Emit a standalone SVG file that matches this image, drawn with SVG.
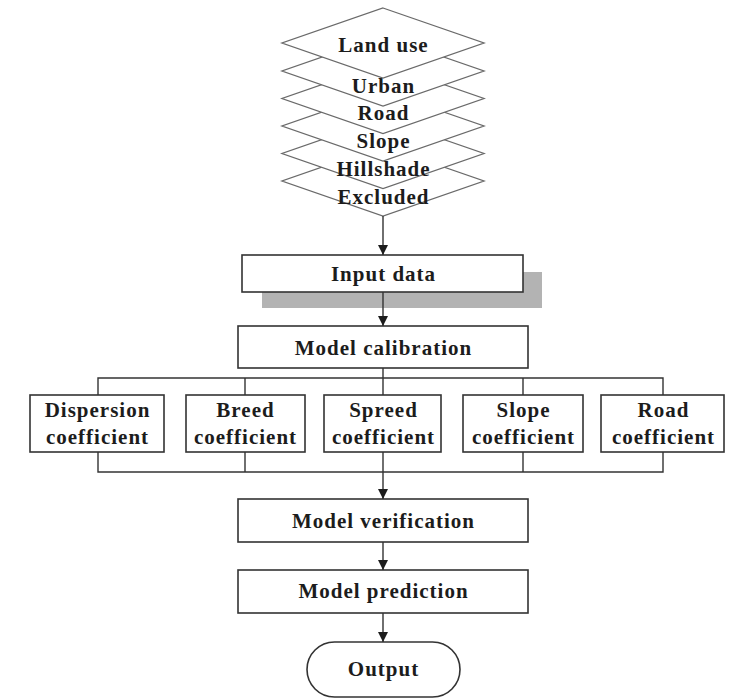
<svg xmlns="http://www.w3.org/2000/svg" width="744" height="700" viewBox="0 0 744 700">
<style>
  .lyr { fill: #ffffff; stroke: #6a6a6a; stroke-width: 1.3; }
  .box { fill: #ffffff; stroke: #333333; stroke-width: 1.6; }
  .shadow { fill: #b3b3b3; stroke: none; }
  .t { font-family: "Liberation Serif", "Times New Roman", serif; font-weight: bold; font-size: 21px; letter-spacing: 1px; fill: #1c1c1c; text-anchor: middle; dominant-baseline: central; }
  .ln { fill: none; stroke: #333333; stroke-width: 1.4; }
</style>
<defs>
  <marker id="ah" viewBox="0 0 10 10" refX="10" refY="5" markerWidth="10" markerHeight="10" markerUnits="userSpaceOnUse" orient="auto">
    <path d="M0,0 L10,5 L0,10 z" fill="#1c1c1c"/>
  </marker>
</defs>

<g id="layer-excluded">
  <polygon class="lyr" points="383,146 484,181 383,216 282,181"/>
  <text class="t" x="383.5" y="197">Excluded</text>
</g>
<g id="layer-hillshade">
  <polygon class="lyr" points="383,118.5 484,153.5 383,188.5 282,153.5"/>
  <text class="t" x="383.5" y="169">Hillshade</text>
</g>
<g id="layer-slope">
  <polygon class="lyr" points="383,91 484,126 383,161 282,126"/>
  <text class="t" x="383.5" y="141">Slope</text>
</g>
<g id="layer-road">
  <polygon class="lyr" points="383,63.5 484,98.5 383,133.5 282,98.5"/>
  <text class="t" x="383.5" y="113">Road</text>
</g>
<g id="layer-urban">
  <polygon class="lyr" points="383,36 484,71 383,106 282,71"/>
  <text class="t" x="383.5" y="86">Urban</text>
</g>
<g id="layer-landuse">
  <polygon class="lyr" points="383,8 484,43 383,78 282,43"/>
  <text class="t" x="383.5" y="45">Land use</text>
</g>

<g id="input-data">
  <rect class="shadow" x="262" y="272" width="280" height="36"/>
  <rect class="box" x="242" y="255" width="281" height="37"/>
  <text class="t" x="383.5" y="274">Input data</text>
</g>

<g id="model-calibration">
  <rect class="box" x="238" y="326" width="290" height="42"/>
  <text class="t" x="383.5" y="348">Model calibration</text>
</g>

<g id="dispersion">
  <rect class="box" x="30" y="395" width="134" height="57"/>
  <text class="t" x="97.5" y="410">Dispersion</text>
  <text class="t" x="97.5" y="437">coefficient</text>
</g>
<g id="breed">
  <rect class="box" x="186" y="395" width="119" height="57"/>
  <text class="t" x="245.5" y="410">Breed</text>
  <text class="t" x="245.5" y="437">coefficient</text>
</g>
<g id="spreed">
  <rect class="box" x="324" y="395" width="117" height="57"/>
  <text class="t" x="383.5" y="410">Spreed</text>
  <text class="t" x="383.5" y="437">coefficient</text>
</g>
<g id="slope-coef">
  <rect class="box" x="463" y="395" width="120" height="57"/>
  <text class="t" x="523.5" y="410">Slope</text>
  <text class="t" x="523.5" y="437">coefficient</text>
</g>
<g id="road-coef">
  <rect class="box" x="601" y="395" width="123" height="57"/>
  <text class="t" x="663.5" y="410">Road</text>
  <text class="t" x="663.5" y="437">coefficient</text>
</g>

<g id="model-verification">
  <rect class="box" x="238" y="499" width="290" height="43"/>
  <text class="t" x="383.5" y="521">Model verification</text>
</g>
<g id="model-prediction">
  <rect class="box" x="238" y="570" width="290" height="43"/>
  <text class="t" x="383.5" y="591">Model prediction</text>
</g>
<g id="output">
  <rect class="box" x="307" y="642" width="153" height="55" rx="27.5" ry="27.5"/>
  <text class="t" x="383.5" y="669">Output</text>
</g>

<g id="connectors">
  <line class="ln" x1="383" y1="216" x2="383" y2="255" marker-end="url(#ah)"/>
  <line class="ln" x1="383" y1="292" x2="383" y2="326" marker-end="url(#ah)"/>
  <line class="ln" x1="383" y1="368" x2="383" y2="378"/>
  <polyline class="ln" points="98,395 98,378 663,378 663,395"/>
  <line class="ln" x1="245" y1="378" x2="245" y2="395"/>
  <line class="ln" x1="383" y1="378" x2="383" y2="395"/>
  <line class="ln" x1="523" y1="378" x2="523" y2="395"/>
  <polyline class="ln" points="98,452 98,472 663,472 663,452"/>
  <line class="ln" x1="245" y1="452" x2="245" y2="472"/>
  <line class="ln" x1="383" y1="452" x2="383" y2="472"/>
  <line class="ln" x1="523" y1="452" x2="523" y2="472"/>
  <line class="ln" x1="383" y1="472" x2="383" y2="499" marker-end="url(#ah)"/>
  <line class="ln" x1="383" y1="542" x2="383" y2="570" marker-end="url(#ah)"/>
  <line class="ln" x1="383" y1="613" x2="383" y2="642" marker-end="url(#ah)"/>
</g>
</svg>
